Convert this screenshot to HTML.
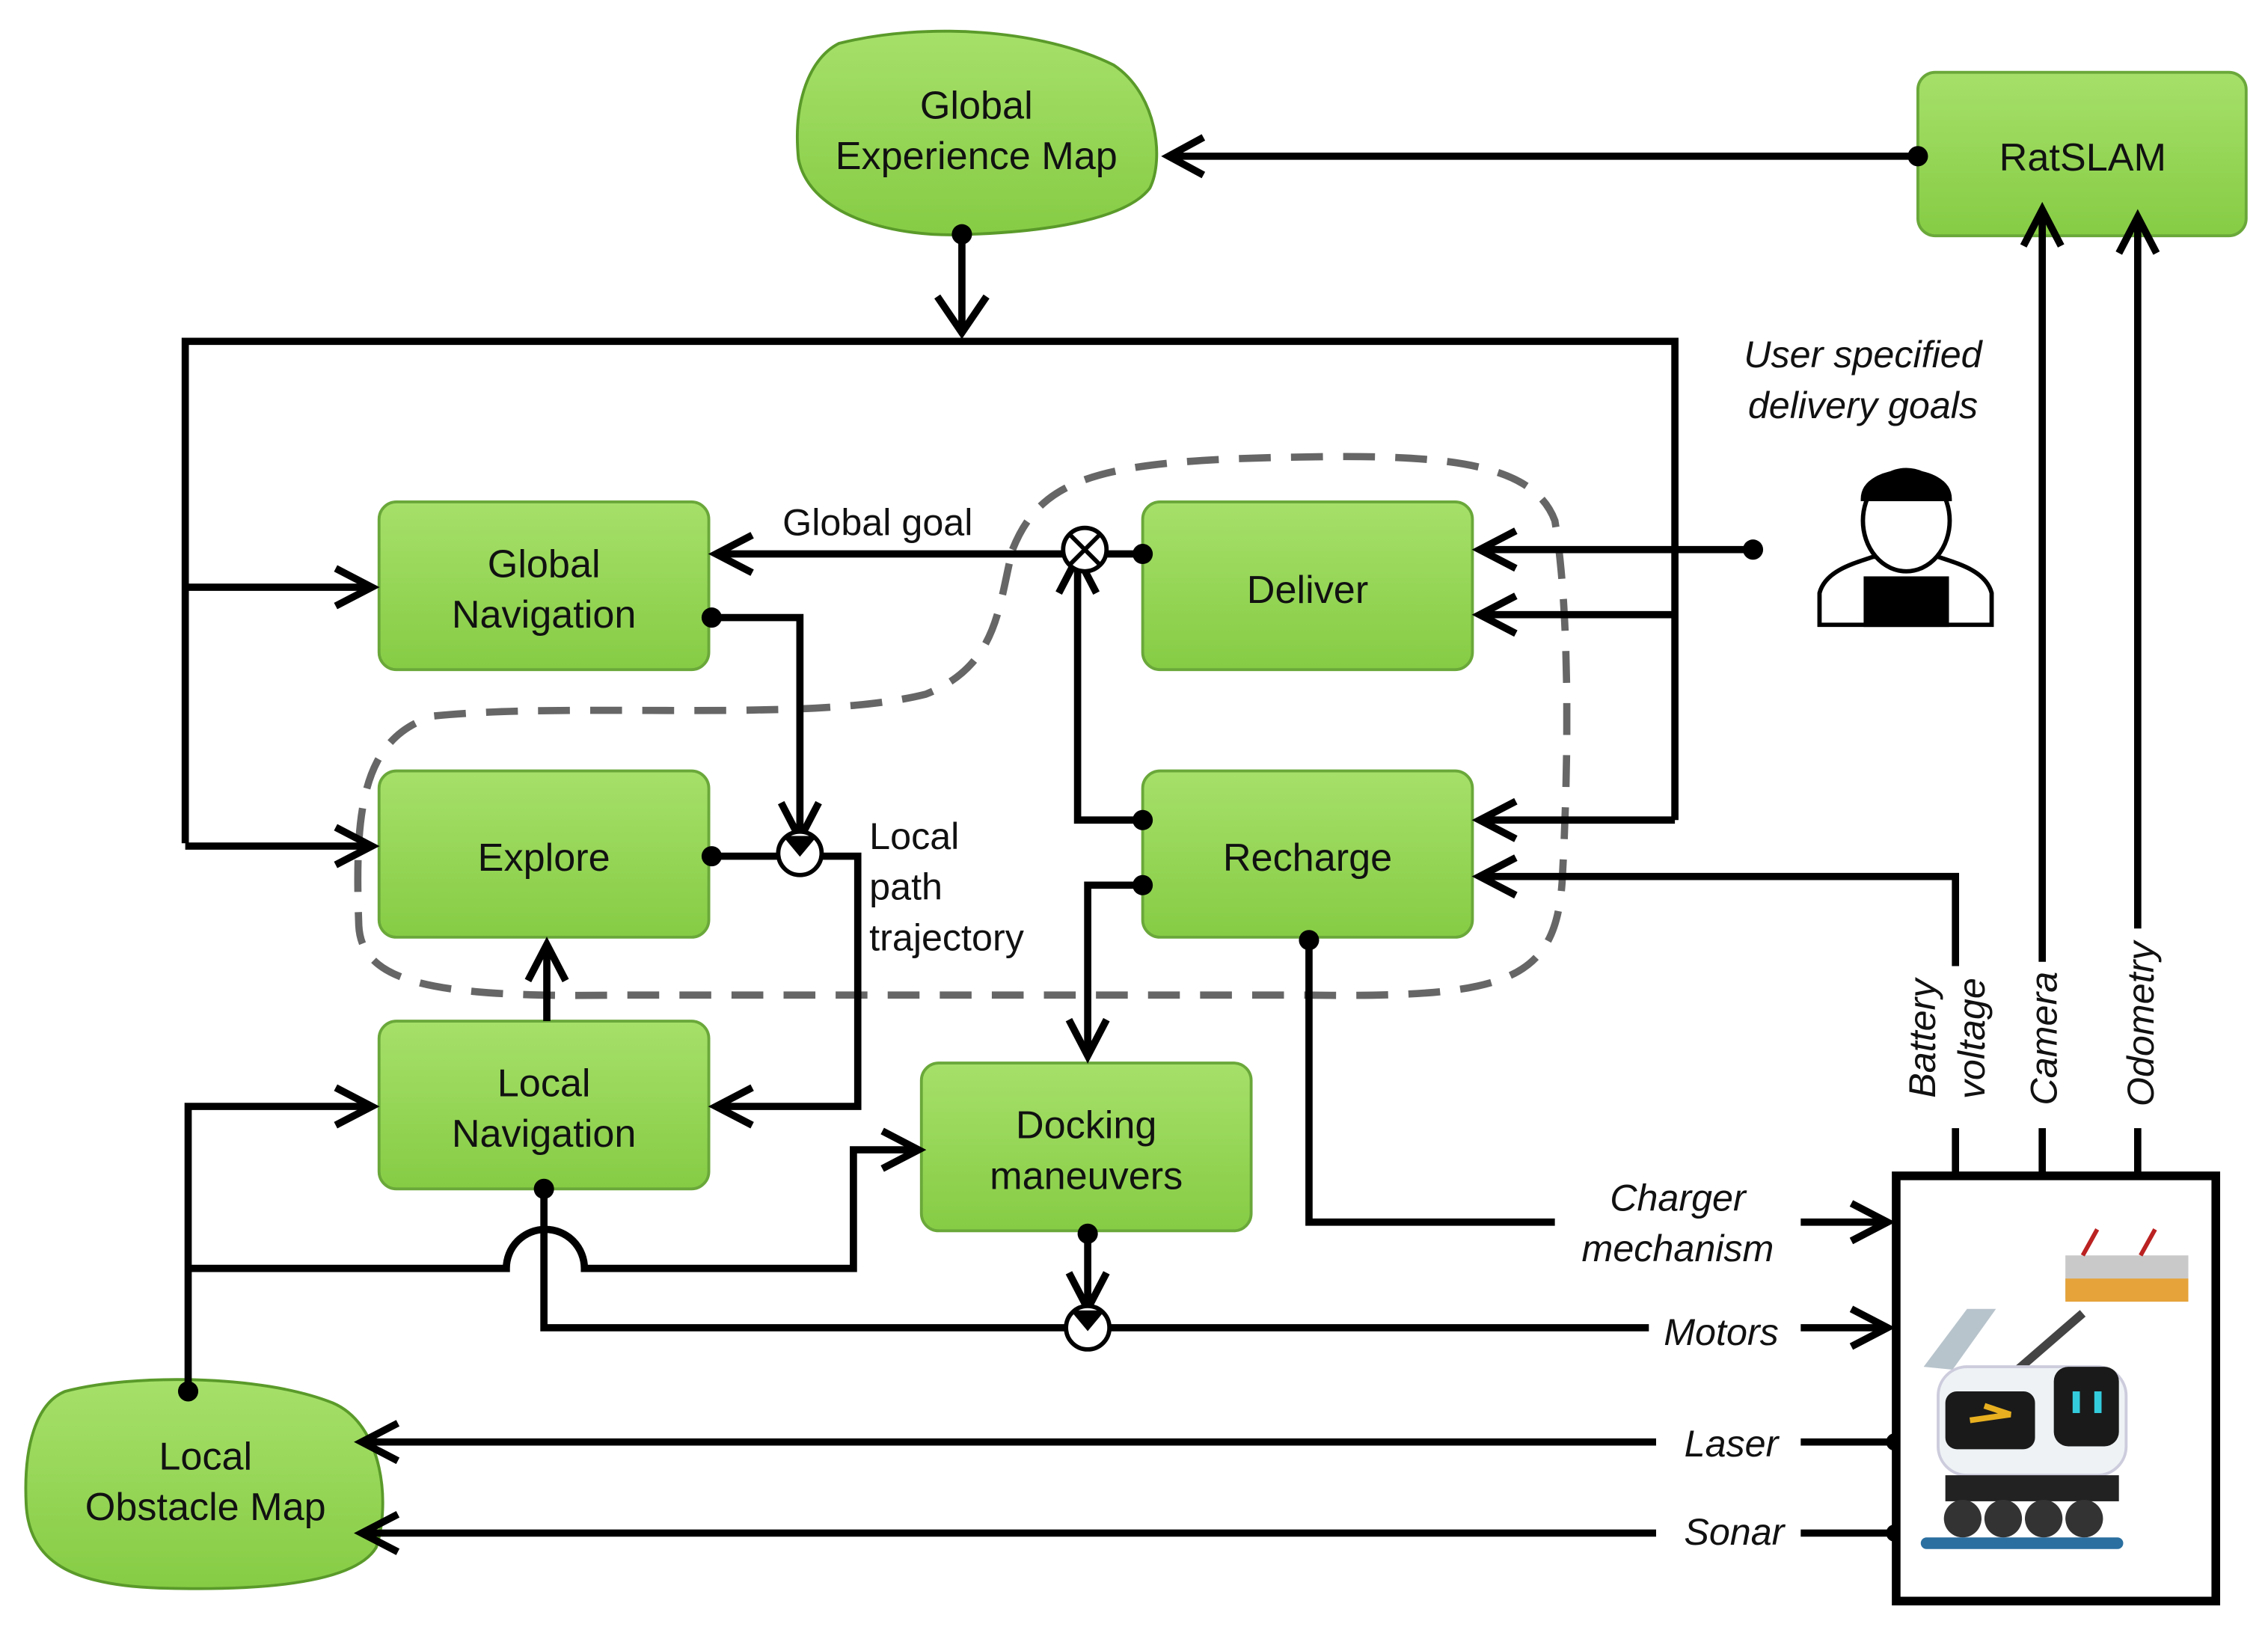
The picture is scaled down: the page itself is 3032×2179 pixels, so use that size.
<!DOCTYPE html>
<html><head><style>
html,body{margin:0;padding:0;background:#fff;}
svg{display:block;}
text{font-family:"Liberation Sans",sans-serif;}
</style></head><body>
<svg width="3032" height="2179" viewBox="0 0 1568 1127" xmlns="http://www.w3.org/2000/svg">
<defs>
<linearGradient id="g" x1="0" y1="0" x2="0" y2="1">
<stop offset="0" stop-color="#a6e06a"/><stop offset="1" stop-color="#86cc44"/>
</linearGradient>
</defs>
<rect width="1568" height="1127" fill="#fff"/>
<path d="M700,380 C720,330 760,318 900,316 C1000,314 1060,320 1075,360 C1085,420 1085,520 1080,610 C1075,680 1040,690 900,688 L430,688 C300,690 250,680 248,640 C245,560 250,510 300,495 C400,485 560,500 640,480 C690,460 690,420 700,380 Z" fill="none" stroke="#666" stroke-width="5" stroke-dasharray="22,14"/>
<path d="M580,30 C640,15 720,20 770,45 C800,65 805,110 795,130 C780,150 730,160 670,162 C620,165 560,150 552,110 C548,70 560,40 580,30 Z" fill="url(#g)" stroke="#5a9a2a" stroke-width="2"/>
<path d="M45,962 C90,950 180,950 230,970 C265,985 270,1040 260,1070 C245,1095 180,1100 110,1098 C50,1096 20,1080 18,1040 C16,1000 25,970 45,962 Z" fill="url(#g)" stroke="#5a9a2a" stroke-width="2"/>
<g fill="url(#g)" stroke="#6aa83a" stroke-width="2">
<rect x="262" y="347" width="228" height="116" rx="12"/>
<rect x="262" y="533" width="228" height="115" rx="12"/>
<rect x="262" y="706" width="228" height="116" rx="12"/>
<rect x="790" y="347" width="228" height="116" rx="12"/>
<rect x="790" y="533" width="228" height="115" rx="12"/>
<rect x="637" y="735" width="228" height="116" rx="12"/>
<rect x="1326" y="50" width="227" height="113" rx="12"/>
</g>
<g font-size="27" text-anchor="middle" fill="#111">
<text x="675" y="82">Global</text><text x="675" y="117">Experience Map</text>
<text x="1440" y="118">RatSLAM</text>
<text x="376" y="399">Global</text><text x="376" y="434">Navigation</text>
<text x="376" y="602">Explore</text>
<text x="376" y="758">Local</text><text x="376" y="793">Navigation</text>
<text x="904" y="417">Deliver</text>
<text x="904" y="602">Recharge</text>
<text x="751" y="787">Docking</text><text x="751" y="822">maneuvers</text>
<text x="142" y="1016">Local</text><text x="142" y="1051">Obstacle Map</text>
</g>
<g font-size="26" fill="#111">
<text x="541" y="370">Global goal</text>
<text x="601" y="587">Local</text><text x="601" y="622">path</text><text x="601" y="657">trajectory</text>
</g>
<g font-size="26" font-style="italic" fill="#111" text-anchor="middle">
<text x="1288" y="254">User specified</text><text x="1288" y="289">delivery goals</text>
<text x="1160" y="837">Charger</text><text x="1160" y="872">mechanism</text>
<text x="1190" y="930">Motors</text>
<text x="1197" y="1007">Laser</text>
<text x="1199" y="1068">Sonar</text>
<text transform="translate(1338,718) rotate(-90)">Battery</text>
<text transform="translate(1372,718) rotate(-90)">voltage</text>
<text transform="translate(1422,718) rotate(-90)">Camera</text>
<text transform="translate(1489,708) rotate(-90)">Odometry</text>
</g>
<g fill="none" stroke="#000" stroke-width="5" stroke-linejoin="miter">
<path d="M128,583 V236 H1158 V567"/>
<path d="M665,162 V230"/>
<path d="M128,406 H255 M128,585 H255"/>
<path d="M1212,380 H1025 M1158,425 H1025 M1158,567 H1025"/>
<path d="M1326,108 H810"/>
<path d="M790,383 H765 M735,383 H497"/>
<path d="M790,567 H745 V390"/>
<path d="M492,427 H553 V578"/>
<path d="M492,592 H538 M568,592 H593 V765 H497"/>
<path d="M378,706 V655"/>
<path d="M790,612 H752 V728"/>
<path d="M752,853 V902"/>
<path d="M376,822 V918 H737 M767,918 H1140 M1245,918 H1300"/>
<path d="M130,962 V765 H255"/>
<path d="M130,877 H350 A27,27 0 0 1 404,877 H590 V795 H630"/>
<path d="M905,650 V845 H1075 M1245,845 H1300"/>
<path d="M1352,812 V780 M1352,668 V606 H1025"/>
<path d="M1412,812 V780 M1412,665 V145"/>
<path d="M1478,812 V780 M1478,642 V150"/>
<path d="M1310,997 H1245 M1145,997 H255"/>
<path d="M1310,1060 H1245 M1145,1060 H255"/>
<path d="M648,205 L665,230 L682,205"/>
<path d="M832,95 L808,108 L832,121"/>
<path d="M232,393 L257,406 L232,419"/>
<path d="M232,572 L257,585 L232,598"/>
<path d="M1048,367 L1023,380 L1048,393"/>
<path d="M1048,412 L1023,425 L1048,438"/>
<path d="M1048,554 L1023,567 L1048,580"/>
<path d="M1048,593 L1023,606 L1048,619"/>
<path d="M520,370 L495,383 L520,396"/>
<path d="M732,410 L745,385 L758,410"/>
<path d="M540,555 L553,580 L566,555"/>
<path d="M520,752 L495,765 L520,778"/>
<path d="M365,678 L378,653 L391,678"/>
<path d="M739,705 L752,730 L765,705"/>
<path d="M739,880 L752,905 L765,880"/>
<path d="M232,752 L257,765 L232,778"/>
<path d="M610,782 L635,795 L610,808"/>
<path d="M1280,832 L1305,845 L1280,858"/>
<path d="M1280,905 L1305,918 L1280,931"/>
<path d="M275,984 L250,997 L275,1010"/>
<path d="M275,1047 L250,1060 L275,1073"/>
<path d="M1399,170 L1412,145 L1425,170"/>
<path d="M1465,175 L1478,150 L1491,175"/>
</g>
<g fill="#fff" stroke="#000" stroke-width="3">
<circle cx="750" cy="380" r="15"/>
<circle cx="553" cy="590" r="15"/>
<circle cx="752" cy="918" r="15"/>
</g>
<g stroke="#000" stroke-width="3">
<path d="M740,370 L760,390 M760,370 L740,390"/>
<path d="M543,578 L553,590 L563,578"/>
<path d="M742,906 L752,918 L762,906"/>
</g>
<g fill="#000">
<circle cx="665" cy="162" r="7"/><circle cx="1326" cy="108" r="7"/>
<circle cx="790" cy="383" r="7"/><circle cx="790" cy="567" r="7"/><circle cx="790" cy="612" r="7"/>
<circle cx="492" cy="427" r="7"/><circle cx="492" cy="592" r="7"/>
<circle cx="376" cy="822" r="7"/><circle cx="752" cy="853" r="7"/>
<circle cx="905" cy="650" r="7"/><circle cx="130" cy="962" r="7"/>
<circle cx="1212" cy="380" r="7"/>
<circle cx="1310" cy="997" r="6"/><circle cx="1310" cy="1060" r="6"/>
</g>
<g stroke="#000" stroke-width="3" fill="#fff">
<path d="M1258,432 V410 C1262,395 1280,390 1295,385 L1340,385 C1355,390 1373,395 1377,410 V432 Z"/>
<ellipse cx="1318" cy="360" rx="30" ry="35"/>
<path d="M1288,345 C1288,320 1348,320 1348,345 Z" fill="#000"/>
<rect x="1290" y="400" width="56" height="32" fill="#000"/>
</g>
<rect x="1311" y="813" width="221" height="294" fill="#fff" stroke="#000" stroke-width="6"/>
<rect x="1428" y="868" width="85" height="30" fill="#c9c9c9"/>
<rect x="1428" y="884" width="85" height="16" fill="#e6a33a"/>
<path d="M1440,868 L1450,850 M1480,868 L1490,850" stroke="#b22" stroke-width="3"/>
<path d="M1380,960 L1440,908" stroke="#444" stroke-width="6"/>
<path d="M1330,945 L1360,905 L1380,905 L1350,947 Z" fill="#b8c4cc"/>
<rect x="1340" y="945" width="130" height="75" rx="20" fill="#eef2f5" stroke="#ccd" stroke-width="2"/>
<rect x="1345" y="962" width="62" height="40" rx="8" fill="#1a1a1a"/>
<path d="M1362,982 L1390,978 L1372,972" stroke="#e8b020" stroke-width="4" fill="none"/>
<rect x="1420" y="945" width="45" height="55" rx="10" fill="#1a1a1a"/>
<rect x="1433" y="962" width="5" height="15" fill="#3cd"/><rect x="1448" y="962" width="5" height="15" fill="#3cd"/>
<rect x="1345" y="1020" width="120" height="18" fill="#222"/>
<g fill="#333"><circle cx="1357" cy="1050" r="13"/><circle cx="1385" cy="1050" r="13"/><circle cx="1413" cy="1050" r="13"/><circle cx="1441" cy="1050" r="13"/></g>
<rect x="1328" y="1063" width="140" height="8" rx="4" fill="#2a6fa0"/>
</svg>
</body></html>
